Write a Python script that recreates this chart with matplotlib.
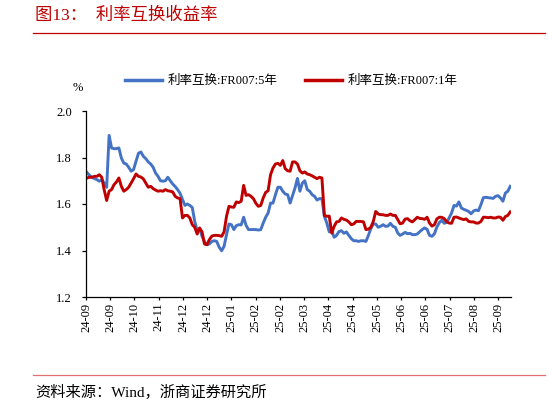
import matplotlib
matplotlib.use("Agg")
import matplotlib.pyplot as plt
from matplotlib.lines import Line2D

FAM = ['Liberation Serif', 'Noto Sans CJK SC']
plt.rcParams['font.family'] = FAM

tick_labels = ['24-09', '24-09', '24-10', '24-11', '24-12', '24-12', '25-01', '25-02', '25-02',
               '25-03', '25-04', '25-04', '25-05', '25-06', '25-06', '25-07', '25-08', '25-09']

swap_5y = [
    1.735, 1.723, 1.715, 1.709, 1.705, 1.698, 1.705, 1.690, 1.672, 1.895,
    1.841, 1.838, 1.838, 1.841, 1.798, 1.776, 1.772, 1.758, 1.741, 1.748,
    1.784, 1.818, 1.824, 1.805, 1.795, 1.781, 1.772, 1.758, 1.733, 1.719,
    1.700, 1.698, 1.700, 1.715, 1.700, 1.686, 1.675, 1.662, 1.646, 1.619,
    1.594, 1.600, 1.594, 1.585, 1.525, 1.485, 1.494, 1.461, 1.437, 1.425,
    1.428, 1.439, 1.442, 1.439, 1.414, 1.399, 1.418, 1.468, 1.514, 1.511,
    1.490, 1.507, 1.511, 1.510, 1.543, 1.508, 1.490, 1.490, 1.490, 1.490,
    1.488, 1.490, 1.518, 1.543, 1.561, 1.604, 1.604, 1.640, 1.672, 1.672,
    1.655, 1.643, 1.640, 1.604, 1.637, 1.669, 1.710, 1.655, 1.690, 1.700,
    1.662, 1.655, 1.640, 1.633, 1.617, 1.623, 1.623, 1.547, 1.518, 1.480,
    1.485, 1.457, 1.465, 1.482, 1.485, 1.474, 1.480, 1.465, 1.451, 1.442,
    1.442, 1.439, 1.442, 1.442, 1.439, 1.465, 1.494, 1.514, 1.514, 1.500,
    1.504, 1.511, 1.504, 1.505, 1.517, 1.504, 1.500, 1.475, 1.465, 1.471,
    1.478, 1.472, 1.474, 1.468, 1.468, 1.471, 1.481, 1.490, 1.497, 1.491,
    1.465, 1.461, 1.472, 1.501, 1.520, 1.530, 1.517, 1.521, 1.540, 1.561,
    1.594, 1.591, 1.609, 1.583, 1.577, 1.573, 1.568, 1.558, 1.570, 1.574,
    1.571, 1.597, 1.627, 1.629, 1.627, 1.626, 1.624, 1.633, 1.636, 1.626,
    1.612, 1.647, 1.655, 1.676,
]

swap_1y = [
    1.712, 1.715, 1.715, 1.719, 1.719, 1.726, 1.715, 1.660, 1.615, 1.655,
    1.662, 1.683, 1.695, 1.712, 1.676, 1.655, 1.662, 1.672, 1.690, 1.709,
    1.729, 1.719, 1.716, 1.708, 1.690, 1.672, 1.676, 1.666, 1.660, 1.655,
    1.657, 1.655, 1.662, 1.657, 1.655, 1.652, 1.633, 1.626, 1.623, 1.540,
    1.551, 1.551, 1.540, 1.511, 1.500, 1.471, 1.497, 1.480, 1.428, 1.425,
    1.447, 1.462, 1.465, 1.465, 1.464, 1.461, 1.480, 1.547, 1.590, 1.587,
    1.586, 1.609, 1.606, 1.612, 1.680, 1.637, 1.640, 1.633, 1.623, 1.603,
    1.590, 1.594, 1.626, 1.650, 1.657, 1.726, 1.755, 1.772, 1.775, 1.766,
    1.787, 1.752, 1.743, 1.741, 1.781, 1.781, 1.772, 1.743, 1.733, 1.738,
    1.729, 1.726, 1.721, 1.715, 1.709, 1.715, 1.712, 1.551, 1.547, 1.548,
    1.475, 1.504, 1.523, 1.525, 1.540, 1.534, 1.531, 1.523, 1.511, 1.514,
    1.525, 1.525, 1.525, 1.523, 1.490, 1.492, 1.500, 1.525, 1.568, 1.557,
    1.554, 1.554, 1.551, 1.551, 1.557, 1.551, 1.551, 1.533, 1.515, 1.518,
    1.535, 1.537, 1.528, 1.523, 1.533, 1.543, 1.538, 1.537, 1.534, 1.543,
    1.518, 1.505, 1.511, 1.536, 1.543, 1.543, 1.537, 1.524, 1.518, 1.517,
    1.543, 1.544, 1.540, 1.536, 1.533, 1.536, 1.525, 1.523, 1.523, 1.518,
    1.518, 1.525, 1.543, 1.543, 1.541, 1.543, 1.540, 1.540, 1.544, 1.543,
    1.530, 1.546, 1.551, 1.566,
]

series_names = ['利率互换:FR007:5年', '利率互换:FR007:1年']
colors = ['#4472C4', '#C00000']

W, H = 548, 401
fig = plt.figure(figsize=(W / 100, H / 100), dpi=100)
ax_l, ax_r, ax_t, ax_b = 86, 510.7, 111, 297
ax = fig.add_axes([ax_l / W, 1 - ax_b / H, (ax_r - ax_l) / W, (ax_b - ax_t) / H])

# sample spacing / tick spacing in sample units
x0 = 0.45
tick_every = 9.914
x = [i + x0 for i in range(len(swap_5y))]
ax.plot(x, swap_5y, color=colors[0], lw=2.1, solid_joinstyle='round')
ax.plot(x, swap_1y, color=colors[1], lw=2.1, solid_joinstyle='round')

ax.set_xlim(0, (ax_r - ax_l) / 2.446)
ax.set_ylim(1.2, 2.0)
ax.set_yticks([1.2, 1.4, 1.6, 1.8, 2.0])
ax.set_yticklabels(['1.2', '1.4', '1.6', '1.8', '2.0'], fontsize=9)
ax.set_xticks([k * tick_every for k in range(len(tick_labels))])
ax.set_xticklabels(tick_labels, rotation=90, fontsize=9)
for s in ['top', 'right']:
    ax.spines[s].set_visible(False)
for s in ['left', 'bottom']:
    ax.spines[s].set_color('black')
    ax.spines[s].set_linewidth(0.9)
ax.tick_params(axis='x', direction='out', length=2.5, width=0.9, colors='black', pad=1.5)
ax.tick_params(axis='y', direction='out', length=3, width=0.9, colors='black', pad=7)

# percent unit
fig.text(78 / W, 1 - 88 / H, '%', fontsize=9, ha='center', va='center')

# legend
handles = [Line2D([0], [0], color=c, lw=2.5) for c in colors]
fig.legend(handles, series_names, loc='center', bbox_to_anchor=(291 / W, 1 - 81 / H),
           ncol=2, frameon=False, fontsize=9, handlelength=3.0, handletextpad=0.4,
           columnspacing=2.2)

# title
fig.text(35 / W, 1 - 16 / H, '图13：  利率互换收益率', fontsize=12.5, color='#C00000',
         ha='left', va='center')
fig.add_artist(Line2D([33 / W, 545 / W], [1 - 33 / H, 1 - 33 / H],
                      color='#C00000', lw=0.9))

# footer
fig.add_artist(Line2D([33 / W, 545 / W], [1 - 375 / H, 1 - 375 / H],
                      color='#E07070', lw=0.9))
fig.text(35 / W, 1 - 392 / H, '资料来源：Wind，浙商证券研究所', fontsize=11,
         ha='left', va='center')

fig.savefig('out.png', dpi=100)
